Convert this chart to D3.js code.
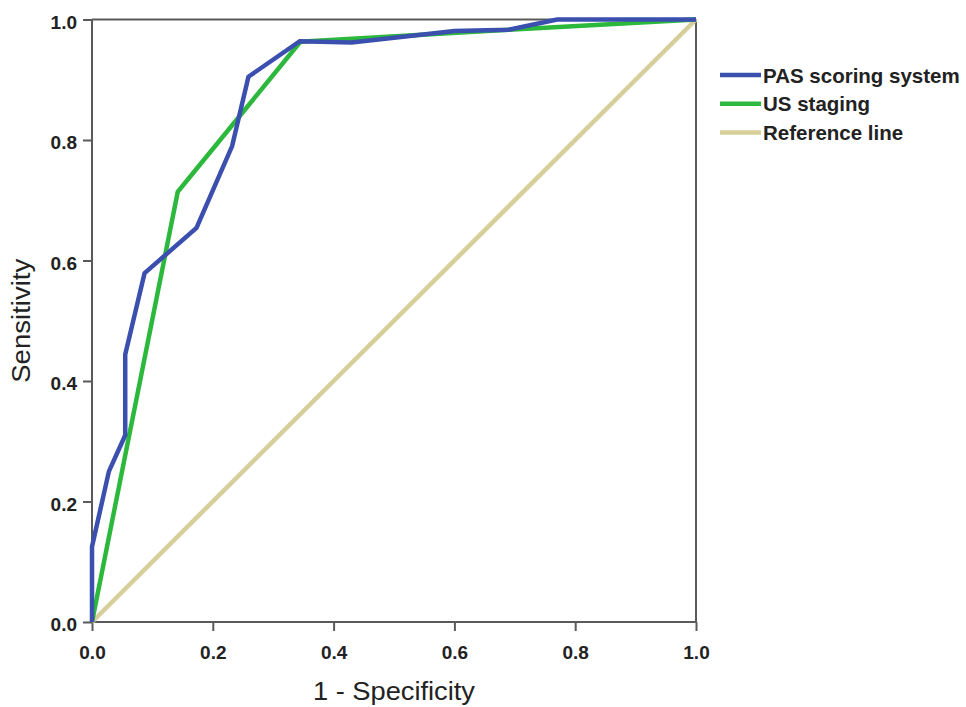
<!DOCTYPE html>
<html>
<head>
<meta charset="utf-8">
<script src="https://cdn.jsdelivr.net/npm/d3@7"></script>
<style>
  body { margin: 0; background: #fff; }
  svg { font-family: Arial, "Liberation Sans", sans-serif; }
</style>
</head>
<body>
<svg></svg>
<script>
'use strict'

const width = 966
const height = 707

// ROC points, x = 1 - specificity, y = sensitivity
const pasX = [0, 0, 0.028, 0.055, 0.055, 0.087, 0.173, 0.232, 0.259, 0.344, 0.43, 0.6, 0.69, 0.77, 1]
const pasY = [0, 0.125, 0.25, 0.31, 0.444, 0.579, 0.654, 0.79, 0.905, 0.964, 0.962, 0.981, 0.983, 1, 1]
const usX = [0, 0.142, 0.345, 0.69, 1]
const usY = [0, 0.714, 0.963, 0.983, 1]
const refX = [0, 1]
const refY = [0, 1]

const ticks = [0, 0.2, 0.4, 0.6, 0.8, 1.0]
const seriesNames = ['PAS scoring system', 'US staging', 'Reference line']
const seriesColors = ['#3b4fae', '#2cb83c', '#d6cf9a']

const margin = { left: 92, right: 270, top: 19.5, bottom: 85 }

const svg = d3.select('svg').attr('width', width).attr('height', height)

const x = d3.scaleLinear().domain([0, 1]).range([margin.left, width - margin.right])
const y = d3.scaleLinear().domain([0, 1]).range([height - margin.bottom, margin.top])

const axisColor = '#5a5a5a'

// frame top and right
svg.append('line')
    .attr('x1', x(0)).attr('x2', x(1)).attr('y1', y(1)).attr('y2', y(1))
    .attr('stroke', axisColor).attr('stroke-width', 2)
svg.append('line')
    .attr('x1', x(1)).attr('x2', x(1)).attr('y1', y(1)).attr('y2', y(0))
    .attr('stroke', axisColor).attr('stroke-width', 2)

const xAxis = svg.append('g')
    .attr('transform', `translate(0,${y(0)})`)
    .call(d3.axisBottom(x).tickValues(ticks).tickFormat(d3.format('.1f')).tickSize(9).tickSizeOuter(0))
const yAxis = svg.append('g')
    .attr('transform', `translate(${x(0)},0)`)
    .call(d3.axisLeft(y).tickValues(ticks).tickFormat(d3.format('.1f')).tickSize(9).tickSizeOuter(0))

for (const a of [xAxis, yAxis]) {
    a.selectAll('path, line').attr('stroke', axisColor).attr('stroke-width', 2)
    a.selectAll('text')
        .attr('fill', '#222')
        .style('font-size', '19px')
        .style('font-weight', 'bold')
        .style('font-family', 'Arial, "Liberation Sans", sans-serif')
}
xAxis.selectAll('text').attr('y', 0).attr('dy', 37)
yAxis.selectAll('text').attr('x', -15).attr('dy', '0.45em')
xAxis.select('.domain').remove()
yAxis.select('.domain').remove()
svg.append('line')
    .attr('x1', x(0)).attr('x2', x(1)).attr('y1', y(0)).attr('y2', y(0))
    .attr('stroke', axisColor).attr('stroke-width', 2)
svg.append('line')
    .attr('x1', x(0)).attr('x2', x(0)).attr('y1', y(0)).attr('y2', y(1))
    .attr('stroke', axisColor).attr('stroke-width', 2)

const line = d3.line().x(d => x(d[0])).y(d => y(d[1]))

const series = [
    d3.zip(refX, refY),
    d3.zip(usX, usY),
    d3.zip(pasX, pasY)
]
const drawColors = [seriesColors[2], seriesColors[1], seriesColors[0]]

series.forEach((pts, i) => {
    svg.append('path')
        .datum(pts)
        .attr('d', line)
        .attr('fill', 'none')
        .attr('stroke', drawColors[i])
        .attr('stroke-width', 4.5)
        .attr('stroke-linejoin', 'miter')
})

// axis titles
svg.append('text')
    .attr('x', 313)
    .attr('y', 700)
    .attr('textLength', 162)
    .attr('lengthAdjust', 'spacingAndGlyphs')
    .attr('fill', '#222')
    .style('font-size', '25px')
    .text('1 - Specificity')

svg.append('text')
    .attr('transform', `translate(30,${(y(0) + y(1)) / 2}) rotate(-90)`)
    .attr('x', -62)
    .attr('textLength', 124)
    .attr('lengthAdjust', 'spacingAndGlyphs')
    .attr('fill', '#222')
    .style('font-size', '25px')
    .text('Sensitivity')

// legend
const legend = svg.append('g').attr('transform', 'translate(720,75)')
seriesNames.forEach((name, i) => {
    const row = legend.append('g').attr('transform', `translate(0,${i * 28.7})`)
    row.append('line')
        .attr('x1', 0).attr('x2', 41).attr('y1', 0).attr('y2', 0)
        .attr('stroke', seriesColors[i]).attr('stroke-width', 4.5)
    row.append('text')
        .attr('x', 43)
        .attr('y', 0)
        .attr('dy', '0.38em')
        .attr('fill', '#222')
        .style('font-size', '20.5px')
        .style('font-weight', 'bold')
        .text(name)
})
</script>
</body>
</html>
